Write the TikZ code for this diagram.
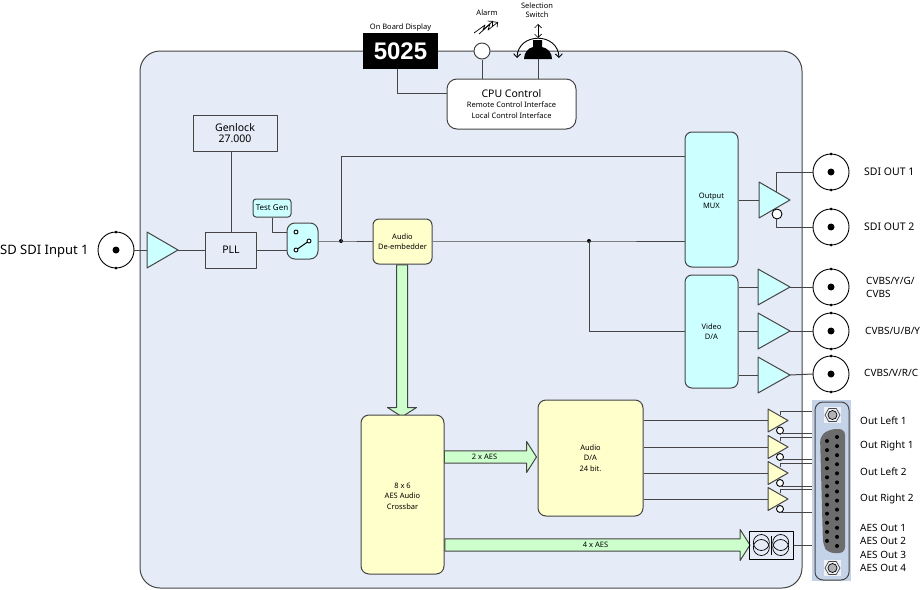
\documentclass[tikz,border=0pt]{standalone}
\usepackage{fontspec}
\setmainfont{Noto Sans}
\newfontfamily\dispfont{Liberation Sans}
\usetikzlibrary{shapes.geometric,shapes.arrows,arrows.meta}
\definecolor{panelblue}{HTML}{E6ECF7}
\definecolor{cyanfill}{HTML}{CCFFFF}
\definecolor{yellowfill}{HTML}{FFFFCC}
\definecolor{greenfill}{HTML}{CCFFCC}
\definecolor{wirecol}{HTML}{454545}
\definecolor{subdfill}{HTML}{C5D3E8}
\tikzset{
    wire/.style={draw=wirecol,line width=1pt},
    block/.style={draw=wirecol,line width=1pt,rounded corners=7pt,align=center,inner sep=0pt,font=\fontsize{7.5}{10.5}\selectfont},
    amp/.style={isosceles triangle,isosceles triangle apex angle=60,isosceles triangle stretches,draw=wirecol,line width=1pt,fill=#1,anchor=west,inner sep=0pt,outer sep=0pt},
    bnc/.style={circle,draw=black,fill=white,line width=0.9pt,minimum size=36pt,inner sep=0pt,outer sep=0pt,path picture={\fill[black] (path picture bounding box.center) circle (3.5);}},
    inv/.style={circle,draw=black,fill=white,line width=0.9pt,inner sep=0pt,outer sep=0pt},
    fatarrow/.style={single arrow,draw=wirecol,line width=1pt,fill=greenfill,single arrow head extend=9pt,single arrow head indent=0pt,single arrow tip angle=115,inner xsep=0pt,inner ysep=0pt,text height=8.3pt,text depth=2.7pt,font=\fontsize{7.5}{9}\selectfont},
    lab/.style={inner sep=0pt,font=\fontsize{10}{13}\selectfont,anchor=west,align=left},
    tiny/.style={inner sep=0pt,font=\fontsize{7.5}{9.5}\selectfont,align=center},
    thinline/.style={line width=0.7pt}
}
\begin{document}
\begin{tikzpicture}[x=1pt,y=-1pt,>={Straight Barb[length=3.5pt,width=7pt]},line join=round]
    \useasboundingbox (0,0) rectangle (923,589);
    \def\bncx{831}
    \node[draw=wirecol,line width=1pt,fill=panelblue,rounded corners=20pt,minimum width=662pt,minimum height=537pt,inner sep=0pt] (panel) at (471,319.5) {};
    \node[fatarrow,shape border rotate=270,text width=10pt,text height=0pt,text depth=0pt,minimum height=152pt,minimum width=29pt] (arrdown) at (402,339) {};
    \node[fatarrow,minimum height=92pt,minimum width=31pt] (arraes) at (488.5,457) {2 x AES\hspace*{8pt}};
    \node[fatarrow,minimum height=305pt,minimum width=31pt] (arrfour) at (595.5,545) {4 x AES};

    % top of the card
    \node[fill=black,text=white,minimum width=75pt,minimum height=36pt,inner sep=0pt,font=\dispfont\bfseries\fontsize{24}{24}\selectfont] (display) at (400.5,51) {5025};
    \node[tiny,anchor=south] (displaylab) at (400.5,31) {On Board Display};
    \node[circle,draw=wirecol,line width=1pt,fill=white,minimum size=16pt,inner sep=0pt] (alarm) at (482,51) {};
    \node[tiny,anchor=south] (alarmlab) at (487,16) {Alarm};
    \node[tiny] (switchlab) at (537,10) {Selection\\Switch};
    \node[block,fill=white,rounded corners=10pt,minimum width=129pt,minimum height=50pt] (cpu) at (511.5,104) {{\fontsize{10.5}{13}\selectfont CPU Control}\\Remote Control Interface\\Local Control Interface};
    \coordinate (selsw) at (538,59);
    \coordinate (dispdrop) at (397,69);
    \coordinate (cpuleft) at (447,93);
    \fill[black] (533,40) -- (542,40) -- (542,47) .. controls (548,48) and (552,53) .. (552,59) -- (524,59) .. controls (524,53) and (528,48) .. (533,47) -- cycle;
    \draw[<->,thinline,line width=0.9pt] (517,58) .. controls (518,32) and (558,32) .. (559,58);
    \draw[<->,thinline] (538,24) -- (538,38);
    \draw[->,thinline] (474,33) -- (485,25) -- (483,30) -- (493,21);
    \draw[->,thinline] (479,34) -- (490,24) -- (488,30) -- (498,22);
    \draw[wire] (dispdrop) |- (cpuleft);
    \draw[wire] (alarm) -- (alarm |- cpu.north);
    \draw[wire] (selsw) -- (selsw |- cpu.north);

    % input and video path
    \node[lab,font=\fontsize{13}{15}\selectfont] (sdiinlab) at (0,251) {SD SDI Input 1};
    \node[amp=cyanfill,minimum height=31pt,minimum width=36pt] (ampin) at (147,250) {};
    \node[block,rounded corners=0pt,minimum width=51pt,minimum height=36pt,font=\fontsize{10.5}{11}\selectfont] (pll) at (231,250) {PLL};
    \node[block,rounded corners=0pt,minimum width=84pt,minimum height=36pt,font=\fontsize{10.5}{11}\selectfont] (genlock) at (235,133) {Genlock\\27.000};
    \node[block,fill=cyanfill,rounded corners=3pt,minimum width=38pt,minimum height=18pt,font=\fontsize{8}{10}\selectfont] (testgen) at (272,208) {Test Gen};
    \node[block,fill=cyanfill,rounded corners=8pt,minimum width=31pt,minimum height=36pt] (swt) at (302.5,241) {};
    \node[inv,minimum size=4pt] (swta) at (296,232) {};
    \node[inv,minimum size=4pt] (swtb) at (296,250) {};
    \node[inv,minimum size=4pt] (swtc) at (309,241) {};
    \draw[line width=1pt] (swtb) -- (swtc);
    \node[block,fill=yellowfill,rounded corners=6pt,minimum width=59pt,minimum height=45pt] (deemb) at (402.5,241.5) {Audio\\De-embedder};
    \node[block,fill=cyanfill,minimum width=53pt,minimum height=135pt] (outmux) at (711.5,199.5) {\rule{0pt}{8.4pt}Output\\MUX};
    \node[block,fill=cyanfill,minimum width=53pt,minimum height=113pt] (videoda) at (711.5,331.5) {Video\\D/A};
    \coordinate (junca) at (341,241);
    \coordinate (juncb) at (589,241);
    \coordinate (muxtop) at (685,156);
    \coordinate (genlockdrop) at (231,151);
    \fill (junca) circle (2);
    \fill (juncb) circle (2);
    \draw[wire] (ampin.east) -- (pll.west);
    \draw[wire] (pll.east) -- (pll.east -| swt.west);
    \draw[wire] (genlockdrop) -- (genlockdrop |- pll.north);
    \draw[wire] (testgen) |- (swt.west |- swta);
    \draw[wire] (swt.east |- junca) -- (junca) -- (deemb.west |- junca);
    \draw[wire] (junca) |- (muxtop);
    \draw[wire] (deemb.east |- juncb) -- (juncb) -- (juncb -| outmux.west);
    \draw[wire] (juncb) |- (videoda.west);

    % outputs
    \foreach \bname/\x/\y in {sdiin/116/250,sdiouta/\bncx/172,sdioutb/\bncx/227,cvbsa/\bncx/287,cvbsb/\bncx/331,cvbsc/\bncx/374}{
        \node[bnc] (\bname) at (\x,\y) {};
        \fill (\bname.north) circle (1.5);
        \fill (\bname.south) circle (1.5);
    }
    \draw[wire] (sdiin) -- (ampin.west);
    \node[amp=cyanfill,minimum height=31pt,minimum width=36pt] (ampout) at (759,200) {};
    \node[inv,minimum size=10pt] (ampoutinv) at (777,214) {};
    \coordinate (ampouttop) at (776,192);
    \coordinate (ampoutlow) at (776,219);
    \draw[wire] (outmux.east |- ampout.west) -- (ampout.west);
    \draw[wire] (ampouttop) |- (sdiouta.west);
    \draw[wire] (ampoutlow) |- (sdioutb.west);
    \foreach \i/\y in {a/287,b/331,c/375}{
        \node[amp=cyanfill,minimum height=32pt,minimum width=36pt] (ampv\i) at (758,\y) {};
        \draw[wire] (videoda.east |- ampv\i.west) -- (ampv\i.west);
        \draw[wire] (ampv\i.east) -- (cvbs\i.west);
    }
    \node[lab,font=\fontsize{10.5}{13}\selectfont] (sdioutalab) at (864,172) {SDI OUT 1};
    \node[lab,font=\fontsize{10.5}{13}\selectfont] (sdioutblab) at (864,227) {SDI OUT 2};
    \node[lab] (cvbsalab) at (866,287.5) {CVBS/Y/G/\\CVBS};
    \node[lab] (cvbsblab) at (865,331) {CVBS/U/B/Y};
    \node[lab] (cvbsclab) at (864,373) {CVBS/V/R/C};

    % audio path
    \node[block,fill=yellowfill,rounded corners=8pt,minimum width=83pt,minimum height=159pt] (xbar) at (402.5,494.5) {\rule{0pt}{8.4pt}8 x 6\\AES Audio\\Crossbar};
    \node[block,fill=yellowfill,rounded corners=8pt,minimum width=105pt,minimum height=116pt] (audioda) at (590.5,458) {Audio\\D/A\\24 bit.};
    \node[draw=black,line width=1pt,minimum width=44pt,minimum height=28pt,inner sep=0pt] (xfmr) at (771,545) {};
    \coordinate (xfmrmid) at (771.5,536);
    \coordinate (xfmrlow) at (771.5,555);
    \draw[thinline] (xfmrmid) -- (xfmrlow);
    \foreach \dx in {-9.7,9.7}{
        \draw[thinline] (771+\dx,542.5) circle (8);
        \draw[thinline] (771+\dx,547.5) circle (8);
    }

    \node[fill=subdfill,minimum width=39pt,minimum height=181pt,inner sep=0pt] (dsub) at (831.5,490.5) {};
    \draw[draw=wirecol,line width=1pt,rounded corners=8pt] (815,402) rectangle (849,580);
    \fill[gray!85!black,rounded corners=6pt] (820,436) -- (830,429) -- (845,429) -- (845,553) -- (828,553) -- (823,545) -- cycle;
    \foreach \k in {0,...,12}\fill (837,437+9.08*\k) circle (2);
    \foreach \k in {0,...,11}\fill (827,441+9.08*\k) circle (2);
    \foreach \sy in {415,568}{
        \fill[white!70!subdfill] (824,\sy-8) rectangle (841,\sy+8);
        \node[regular polygon,regular polygon sides=6,draw=wirecol,line width=0.7pt,minimum size=15pt,inner sep=0pt] (hex\sy) at (832.5,\sy) {};
        \fill[draw=black,fill=gray!60,line width=0.7pt] (832.5,\sy) circle (4.5);
    }
    \draw[wire] (xfmr.east) -- (dsub.west |- xfmr.east);
    \foreach \i/\y/\up/\dn in {1/420.5/411/433.5,2/447/437/459,3/473/463/486,4/499/489/512}{
        \node[amp=yellowfill,minimum height=20pt,minimum width=23pt] (ampa\i) at (768,\y) {};
        \node[inv,minimum size=7pt] (ampainv\i) at (780,\y+10) {};
        \coordinate (ampatop\i) at (780,\y-6);
        \coordinate (pinup\i) at (812,\up);
        \coordinate (pindn\i) at (812,\dn);
        \draw[wire] (audioda.east |- ampa\i.west) -- (ampa\i.west);
        \draw[wire] (ampatop\i) |- (pinup\i);
        \draw[wire] (ampainv\i) |- (pindn\i);
    }
    \foreach \lname/\y/\ltext in {loa/421/Out Left 1,roa/446/Out Right 1,lob/472/Out Left 2,rob/499/Out Right 2,aesa/528/AES Out 1,aesb/541/AES Out 2,aesc/555/AES Out 3,aesd/568/AES Out 4}{
        \node[lab] (\lname) at (860,\y) {\ltext};
    }
\end{tikzpicture}
\end{document}
